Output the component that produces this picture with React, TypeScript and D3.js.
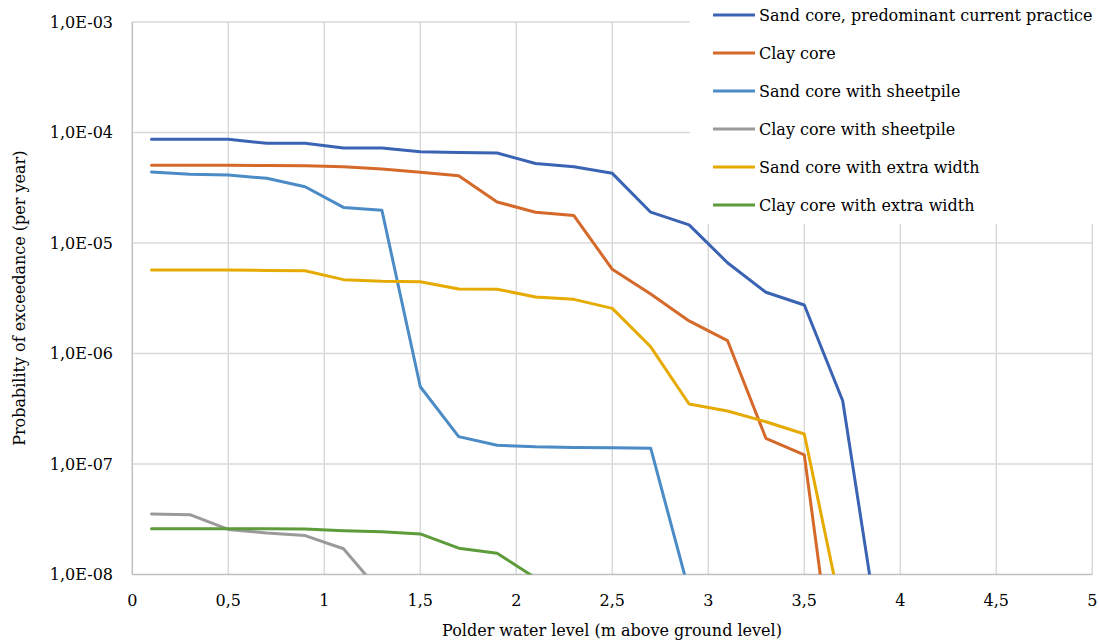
import React, { useEffect, useRef } from 'react';
import * as d3 from 'd3';

// water levels (m above ground level)
const levels = [0.1, 0.3, 0.5, 0.7, 0.9, 1.1, 1.3, 1.5, 1.7, 1.9, 2.1, 2.3, 2.5, 2.7, 2.9, 3.1, 3.3, 3.5, 3.7, 3.9];

const sandCore = [8.68e-5, 8.68e-5, 8.68e-5, 7.98e-5, 7.98e-5, 7.24e-5, 7.24e-5, 6.7e-5, 6.59e-5, 6.52e-5, 5.24e-5, 4.9e-5, 4.27e-5, 1.9e-5, 1.46e-5, 6.63e-6, 3.58e-6, 2.75e-6, 3.74e-7, 2.1e-9];
const clayCore = [5.05e-5, 5.05e-5, 5.05e-5, 5.02e-5, 5.0e-5, 4.9e-5, 4.68e-5, 4.36e-5, 4.06e-5, 2.35e-5, 1.9e-5, 1.77e-5, 5.78e-6, 3.45e-6, 1.97e-6, 1.31e-6, 1.71e-7, 1.21e-7, 3.0e-10];
const sandSheetpile = [4.39e-5, 4.19e-5, 4.12e-5, 3.85e-5, 3.23e-5, 2.1e-5, 1.98e-5, 5.0e-7, 1.77e-7, 1.48e-7, 1.43e-7, 1.41e-7, 1.4e-7, 1.39e-7, 7.0e-9];
const claySheetpile = [3.53e-8, 3.48e-8, 2.56e-8, 2.37e-8, 2.25e-8, 1.71e-8, 6.7e-9];
const sandExtraWidth = [5.7e-6, 5.7e-6, 5.7e-6, 5.64e-6, 5.6e-6, 4.66e-6, 4.5e-6, 4.46e-6, 3.84e-6, 3.82e-6, 3.25e-6, 3.09e-6, 2.56e-6, 1.15e-6, 3.49e-7, 3.02e-7, 2.41e-7, 1.87e-7, 4.1e-9];
const clayExtraWidth = [2.6e-8, 2.6e-8, 2.6e-8, 2.59e-8, 2.58e-8, 2.49e-8, 2.44e-8, 2.33e-8, 1.73e-8, 1.56e-8, 9.3e-9];

const seriesNames = [
  'Sand core, predominant current practice',
  'Clay core',
  'Sand core with sheetpile',
  'Clay core with sheetpile',
  'Sand core with extra width',
  'Clay core with extra width',
];
const seriesValues = [sandCore, clayCore, sandSheetpile, claySheetpile, sandExtraWidth, clayExtraWidth];
const colors = ['#3a63b3', '#d5692a', '#4b8bc6', '#9a9a9a', '#e6ab02', '#5e9b3a'];

const xTicks = [0, 0.5, 1, 1.5, 2, 2.5, 3, 3.5, 4, 4.5, 5];
const yTicks = [1e-3, 1e-4, 1e-5, 1e-6, 1e-7, 1e-8];

const fmtX = (d: number) => String(d).replace('.', ',');
const fmtY = (d: number) => '1,0E-' + String(Math.round(-Math.log10(d))).padStart(2, '0');

const App = () => {
  const ref = useRef<HTMLDivElement>(null);

  useEffect(() => {
    const W = 1099, H = 644;
    const left = 132.3, right = 1092.3, top = 22, bottom = 574.5;
    const font = 'DejaVu Serif';

    d3.select(ref.current).selectAll('*').remove();
    const svg = d3.select(ref.current)
      .append('svg')
      .attr('width', W)
      .attr('height', H)
      .style('font-family', font)
      .style('font-size', '16px')
      .style('display', 'block')
      .style('background', '#fff');

    const x = d3.scaleLinear().domain([0, 5]).range([left, right]);
    const y = d3.scaleLog().domain([1e-8, 1e-3]).range([bottom, top]);

    // gridlines
    svg.append('g')
      .selectAll('line.v')
      .data(xTicks.slice(1))
      .join('line')
      .attr('x1', d => x(d)).attr('x2', d => x(d))
      .attr('y1', top).attr('y2', bottom)
      .attr('stroke', '#d9d9d9').attr('stroke-width', 1.5);
    svg.append('g')
      .selectAll('line.h')
      .data(yTicks.slice(0, -1))
      .join('line')
      .attr('x1', left).attr('x2', right)
      .attr('y1', d => y(d)).attr('y2', d => y(d))
      .attr('stroke', '#d9d9d9').attr('stroke-width', 1.5);

    // axis lines
    svg.append('line')
      .attr('x1', left).attr('x2', left).attr('y1', top).attr('y2', bottom)
      .attr('stroke', '#bfbfbf').attr('stroke-width', 1.5);
    svg.append('line')
      .attr('x1', left).attr('x2', right).attr('y1', bottom).attr('y2', bottom)
      .attr('stroke', '#bfbfbf').attr('stroke-width', 1.5);

    // tick labels
    svg.append('g')
      .selectAll('text')
      .data(yTicks)
      .join('text')
      .attr('x', 113)
      .attr('y', d => y(d))
      .attr('dy', '0.35em')
      .attr('text-anchor', 'end')
      .attr('fill', '#000')
      .text(fmtY);
    svg.append('g')
      .selectAll('text')
      .data(xTicks)
      .join('text')
      .attr('x', d => x(d))
      .attr('y', 600)
      .attr('dy', '0.35em')
      .attr('text-anchor', 'middle')
      .attr('fill', '#000')
      .text(fmtX);

    // axis titles
    svg.append('text')
      .attr('x', 612)
      .attr('y', 630)
      .attr('dy', '0.35em')
      .attr('text-anchor', 'middle')
      .text('Polder water level (m above ground level)');
    svg.append('text')
      .attr('transform', `translate(19, ${(top + bottom) / 2}) rotate(-90)`)
      .attr('dy', '0.35em')
      .attr('text-anchor', 'middle')
      .text('Probability of exceedance (per year)');

    // series, clipped to plot area
    svg.append('clipPath')
      .attr('id', 'plot-clip')
      .append('rect')
      .attr('x', left).attr('y', top)
      .attr('width', right - left).attr('height', bottom - top);

    const line = d3.line<number>()
      .x((_, i) => x(levels[i]))
      .y(d => y(d));

    svg.append('g')
      .attr('clip-path', 'url(#plot-clip)')
      .selectAll('path')
      .data(seriesValues)
      .join('path')
      .attr('fill', 'none')
      .attr('stroke', (_, i) => colors[i])
      .attr('stroke-width', 3)
      .attr('stroke-linejoin', 'round')
      .attr('stroke-linecap', 'round')
      .attr('d', d => line(d));

    // legend
    const legend = svg.append('g');
    legend.append('rect')
      .attr('x', 690).attr('y', 0)
      .attr('width', W - 690).attr('height', 224)
      .attr('fill', '#fff');
    const rows = legend.selectAll('g')
      .data(seriesNames)
      .join('g')
      .attr('transform', (_, i) => `translate(0, ${15 + i * 38})`);
    rows.append('line')
      .attr('x1', 713).attr('x2', 755)
      .attr('stroke', (_, i) => colors[i])
      .attr('stroke-width', 3);
    rows.append('text')
      .attr('x', 759)
      .attr('dy', '0.35em')
      .text(d => d);
  }, []);

  return <div ref={ref} style={{ position: 'absolute', left: 0, top: 0 }}></div>;
};

export default App;
